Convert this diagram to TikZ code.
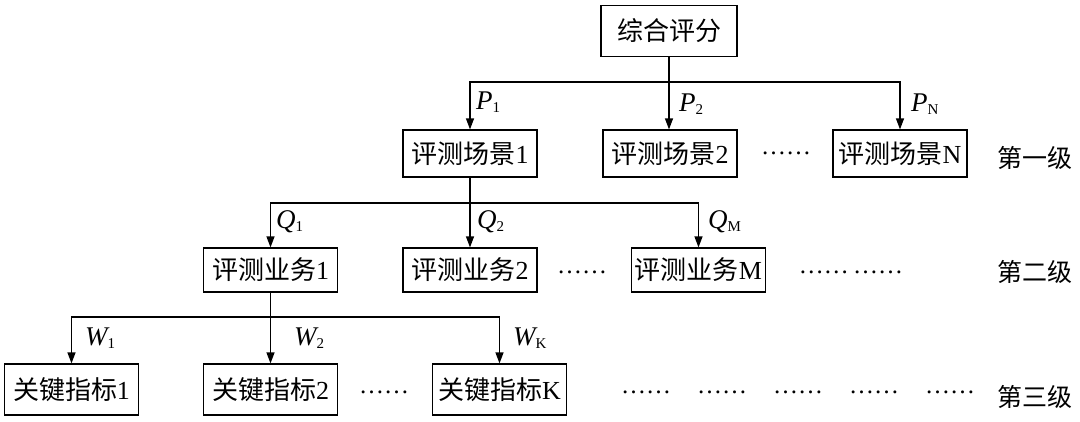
\documentclass[tikz,border=0pt]{standalone}
\usepackage{fontspec}
\setmainfont{Liberation Serif}
\newfontfamily\cjk{Noto Sans CJK SC}
\usetikzlibrary{arrows.meta}
\newcommand{\wlab}[2]{{\itshape #1}\raisebox{-3pt}{\fontsize{15}{15}\selectfont #2}}
\begin{document}
\begin{tikzpicture}[x=1pt,y=-1pt,
 box/.style={draw,line width=1.2pt,minimum width=134pt,minimum height=47pt,inner sep=0pt,font=\fontsize{26}{26}\selectfont},
 arr/.style={line width=1.2pt,-{Triangle[length=11pt,width=8pt]}},
 ln/.style={line width=1.2pt},
 lbl/.style={font=\fontsize{27}{27}\selectfont,inner sep=0pt,anchor=west},
 dotsty/.style={font=\fontsize{25}{25}\selectfont,inner sep=0pt},
 lvl/.style={font=\fontsize{25}{25}\selectfont\cjk,inner sep=0pt,anchor=west},
]
\useasboundingbox (0,0) rectangle (1080,421);
% top
\node[box,minimum width=136pt,minimum height=51pt] (top) at (669,31) {{\cjk 综合评分}};
% level 1
\node[box] (s1) at (470,153.5) {{\cjk 评测场景}1};
\node[box] (s2) at (670,153.5) {{\cjk 评测场景}2};
\node[box] (sN) at (900,153.5) {{\cjk 评测场景}N};
\node[dotsty] (d1) at (786,153) {……};
\node[lvl] (l1) at (997,158) {第一级};
% level 2
\node[box,minimum height=44pt] (b1) at (270.5,270) {{\cjk 评测业务}1};
\node[box,minimum height=44pt] (b2) at (470,270) {{\cjk 评测业务}2};
\node[box,minimum height=44pt] (bM) at (698.5,270) {{\cjk 评测业务}M};
\node[dotsty] (d2) at (582,272) {……};
\node[dotsty] (d3) at (851,272) {……\,……};
\node[lvl] (l2) at (997,272) {第二级};
% level 3
\node[box,minimum height=51pt] (k1) at (71.5,389.5) {{\cjk 关键指标}1};
\node[box,minimum height=51pt] (k2) at (270.5,389.5) {{\cjk 关键指标}2};
\node[box,minimum height=51pt] (kK) at (499.5,389.5) {{\cjk 关键指标}K};
\node[dotsty] (d4) at (384,392) {……};
\node[dotsty] (e1) at (646,392) {……};
\node[dotsty] (e2) at (722,392) {……};
\node[dotsty] (e3) at (798,392) {……};
\node[dotsty] (e4) at (874,392) {……};
\node[dotsty] (e5) at (950,392) {……};
\node[lvl] (l3) at (997,397) {第三级};
% junctions
\coordinate (j0) at (669,82);
\coordinate (j1) at (470,203);
\coordinate (j2) at (270.5,317);
% connectors level 0->1
\draw[ln] (top.south) -- (j0);
\draw[arr] (j0) -| (s1.north);
\draw[arr] (j0) -- (j0 |- s2.north);
\draw[arr] (j0) -| (sN.north);
% level 1->2
\draw[ln] (s1.south) -- (j1);
\draw[arr] (j1) -| (b1.north);
\draw[arr] (j1) -- (b2.north);
\draw[arr] (j1) -| (bM.north);
% level 2->3
\draw[ln] (b1.south) -- (j2);
\draw[arr] (j2) -| (k1.north);
\draw[arr] (j2) -- (k2.north);
\draw[arr] (j2) -| (kK.north);
% labels
\node[lbl] (p1) at (476,102) {\wlab{P}{1}};
\node[lbl] (p2) at (679,104) {\wlab{P}{2}};
\node[lbl] (pN) at (911,104) {\wlab{P}{N}};
\node[lbl] (q1) at (276,222) {\wlab{Q}{1}};
\node[lbl] (q2) at (477,222) {\wlab{Q}{2}};
\node[lbl] (qM) at (708,222) {\wlab{Q}{M}};
\node[lbl] (w1) at (85,338) {\wlab{W}{1}};
\node[lbl] (w2) at (294,338) {\wlab{W}{2}};
\node[lbl] (wK) at (513,338) {\wlab{W}{K}};
\end{tikzpicture}
\end{document}
